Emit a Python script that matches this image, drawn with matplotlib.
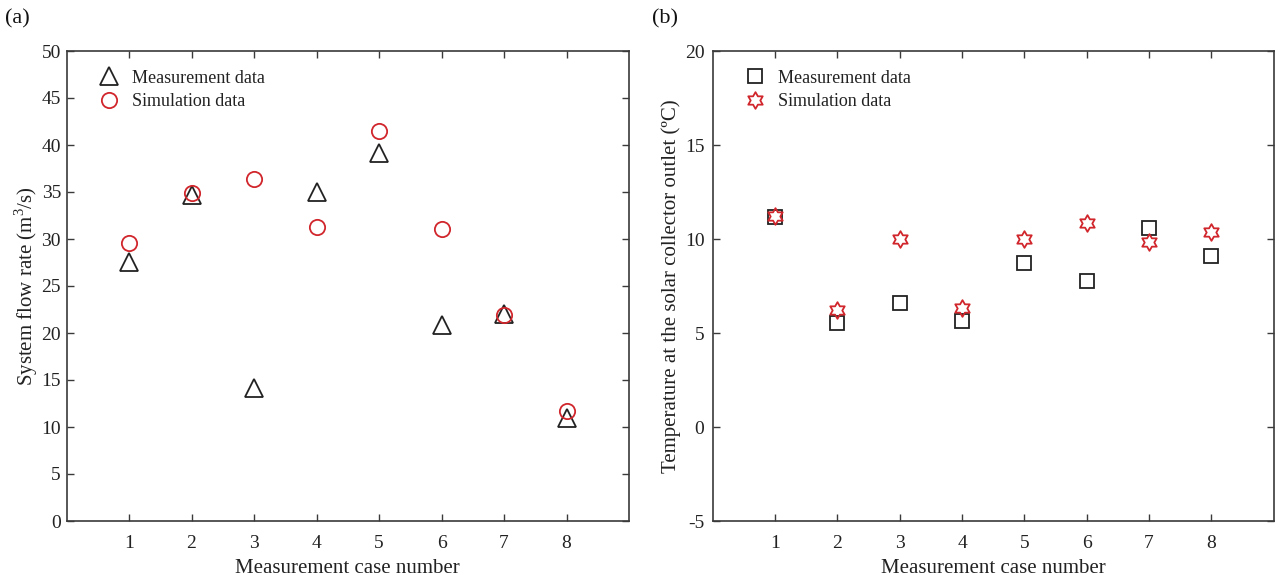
import numpy as np
import matplotlib
matplotlib.use("Agg")
import matplotlib.pyplot as plt
from matplotlib.path import Path

plt.rcParams['font.family'] = ['Liberation Serif', 'DejaVu Serif']
plt.rcParams['mathtext.fontset'] = 'custom'
plt.rcParams['mathtext.rm'] = 'Liberation Serif'
plt.rcParams['axes.unicode_minus'] = False

cases = [1, 2, 3, 4, 5, 6, 7, 8]
flow_meas = [27.6, 34.7, 14.1, 35.0, 39.1, 20.8, 22.0, 11.0]
flow_sim = [29.6, 34.9, 36.4, 31.3, 41.5, 31.1, 21.9, 11.7]
temp_meas = [11.15, 5.52, 6.58, 5.63, 8.7, 7.75, 10.56, 9.08]
temp_sim = [11.2, 6.21, 9.98, 6.32, 9.98, 10.83, 9.82, 10.35]

# hexagram marker path
ang_o = np.deg2rad(90 + np.arange(6) * 60)
ang_i = ang_o + np.deg2rad(30)
ri = 0.577
verts = []
for ao, ai in zip(ang_o, ang_i):
    verts.append((np.cos(ao), np.sin(ao)))
    verts.append((ri * np.cos(ai), ri * np.sin(ai)))
verts.append(verts[0])
codes = [Path.MOVETO] + [Path.LINETO] * 11 + [Path.CLOSEPOLY]
hexagram = Path(verts, codes)

W, H = 1276, 579
fig = plt.figure(figsize=(W / 100, H / 100), dpi=100)
ax1 = fig.add_axes([66.5 / W, 58 / H, 562.5 / W, 470 / H])
ax2 = fig.add_axes([712.7 / W, 58 / H, 561 / W, 470 / H])

spine_c = '#3a3a3a'
red = '#d0262c'

for ax in (ax1, ax2):
    ax.set_xlim(0, 9)
    ax.set_xticks(cases)
    for s in ax.spines.values():
        s.set_color(spine_c)
        s.set_linewidth(1.2)
    ax.tick_params(direction='in', top=True, right=True, length=5, width=1.0,
                   color=spine_c, labelsize=14, labelcolor='#222222')
    ax.tick_params(axis='x', pad=10)
    ax.set_xlabel('Measurement case number', fontsize=15, color='#222222', labelpad=5)
ax1.tick_params(axis='y', pad=4)
ax2.tick_params(axis='y', pad=6)

ax1.plot(cases, flow_meas, linestyle='none', marker='^', ms=13, mfc='none',
         mec='#222222', mew=1.3, label='Measurement data')
ax1.plot(cases, flow_sim, linestyle='none', marker='o', ms=11, mfc='none',
         mec=red, mew=1.3, label='Simulation data')
ax1.set_ylim(0, 50)
ax1.set_yticks(np.arange(0, 51, 5))
ax1.set_ylabel('System flow rate (m$^3$/s)', fontsize=15, color='#222222', labelpad=1)

ax2.plot(cases, temp_meas, linestyle='none', marker='s', ms=10, mfc='none',
         mec='#222222', mew=1.3, label='Measurement data')
ax2.plot(cases, temp_sim, linestyle='none', marker=hexagram, ms=12, mfc='none',
         mec=red, mew=1.3, label='Simulation data')
ax2.set_ylim(-5, 20)
ax2.set_yticks(np.arange(-5, 21, 5))
ax2.set_ylabel('Temperature at the solar collector outlet (ºC)', fontsize=15,
               color='#222222', labelpad=3)

for ax in (ax1, ax2):
    ax.legend(loc='upper left', bbox_to_anchor=(0.03, 0.995), frameon=False,
              fontsize=13, handlelength=1.0, handletextpad=0.8, labelspacing=0.35,
              labelcolor='#222222')

fig.text(5 / W, 1 - 19 / H, '(a)', fontsize=16, va='center', ha='left', color='#111111')
fig.text(652 / W, 1 - 19 / H, '(b)', fontsize=16, va='center', ha='left', color='#111111')

fig.savefig('out.png', dpi=100)
